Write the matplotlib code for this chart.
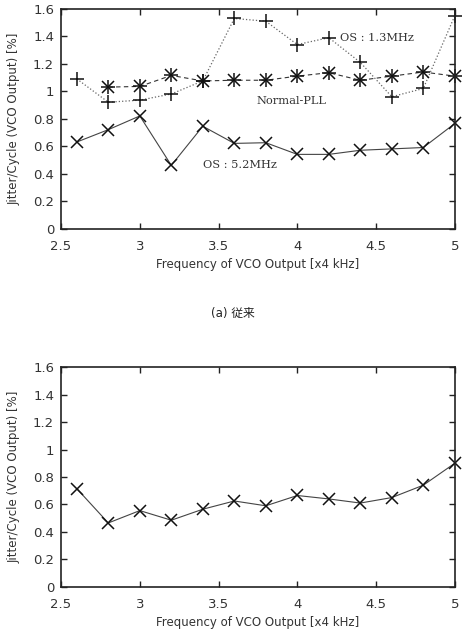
import matplotlib
matplotlib.use("Agg")
import matplotlib.pyplot as plt
from matplotlib.ticker import FuncFormatter

plt.rcParams['font.family'] = ['DejaVu Sans', 'Noto Sans CJK JP']

freq = [2.6, 2.8, 3.0, 3.2, 3.4, 3.6, 3.8, 4.0, 4.2, 4.4, 4.6, 4.8, 5.0]
os13 = [1.09, 0.92, 0.935, 0.98, 1.075, 1.53, 1.51, 1.34, 1.39, 1.21, 0.96, 1.02, 1.55]
freq_pll = [2.8, 3.0, 3.2, 3.4, 3.6, 3.8, 4.0, 4.2, 4.4, 4.6, 4.8, 5.0]
normal_pll = [1.03, 1.035, 1.115, 1.075, 1.08, 1.08, 1.11, 1.135, 1.08, 1.11, 1.14, 1.11]
os52 = [0.63, 0.72, 0.82, 0.46, 0.745, 0.62, 0.625, 0.54, 0.54, 0.57, 0.58, 0.59, 0.765]
proposed = [0.715, 0.465, 0.555, 0.485, 0.565, 0.625, 0.59, 0.665, 0.64, 0.61, 0.65, 0.74, 0.90]

xticks = [2.5, 3.0, 3.5, 4.0, 4.5, 5.0]
yticks = [0, 0.2, 0.4, 0.6, 0.8, 1.0, 1.2, 1.4, 1.6]
xlabel = "Frequency of VCO Output [x4 kHz]"
ylabel = "Jitter/Cycle (VCO Output) [%]"
caption = "(a) 従来"

fig = plt.figure(figsize=(4.66, 6.33), dpi=100)
ax1 = fig.add_axes([0.131, 0.639, 0.845, 0.347])
ax2 = fig.add_axes([0.131, 0.073, 0.845, 0.347])

fmt = FuncFormatter(lambda v, p: f"{v:g}")

def style(ax):
    ax.set_xlim(2.5, 5.0)
    ax.set_ylim(0, 1.6)
    ax.set_xticks(xticks)
    ax.set_yticks(yticks)
    ax.xaxis.set_major_formatter(fmt)
    ax.yaxis.set_major_formatter(fmt)
    ax.tick_params(direction='in', length=4, width=1, top=True, right=True,
                   labelsize=9.5, colors='#222222', labelcolor='#333333')
    ax.tick_params(axis='x', pad=8)
    ax.tick_params(axis='y', pad=5)
    for s in ax.spines.values():
        s.set_linewidth(1.2)
        s.set_color('#222222')
    ax.set_xlabel(xlabel, fontsize=8.5, color='#333333', labelpad=4)
    ax.set_ylabel(ylabel, fontsize=8.5, color='#333333', labelpad=9)

style(ax1)
style(ax2)

# OS 1.3MHz
ax1.plot(freq, os13, linestyle=':', color='#666666', linewidth=0.9,
         marker='+', markersize=10, markeredgewidth=1.1, markeredgecolor='#111111', clip_on=False)
# Normal-PLL (asterisk = + and x)
ax1.plot(freq_pll, normal_pll, linestyle=(0, (4, 3)), color='#333333', linewidth=0.8,
         marker='+', markersize=10, markeredgewidth=1.1, markeredgecolor='#111111', clip_on=False)
ax1.plot(freq_pll, normal_pll, linestyle='none',
         marker='x', markersize=8, markeredgewidth=1.1, markeredgecolor='#111111', clip_on=False)
# OS 5.2MHz
ax1.plot(freq, os52, linestyle='-', color='#444444', linewidth=0.8,
         marker='x', markersize=9, markeredgewidth=1.1, markeredgecolor='#111111', clip_on=False)

ax1.text(4.27, 1.39, "OS : 1.3MHz", family='DejaVu Serif', fontsize=8.2, color='#333333', va='center')
ax1.text(3.74, 0.93, "Normal-PLL", family='DejaVu Serif', fontsize=8.2, color='#333333', va='center')
ax1.text(3.4, 0.46, "OS : 5.2MHz", family='DejaVu Serif', fontsize=8.2, color='#333333', va='center')

ax2.plot(freq, proposed, linestyle='-', color='#444444', linewidth=0.8,
         marker='x', markersize=9, markeredgewidth=1.1, markeredgecolor='#111111', clip_on=False)

fig.text(0.5, 1 - 313 / 633, caption, ha='center', va='center', fontsize=8.5,
         color='#222222', family=['DejaVu Sans', 'Noto Sans CJK JP'])

fig.savefig("out.png", dpi=100, facecolor='white')
